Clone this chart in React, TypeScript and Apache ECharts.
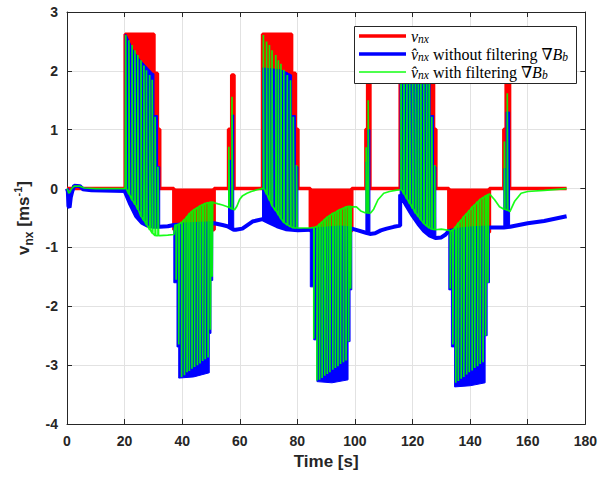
import React, { useEffect, useRef } from "react";
import * as echarts from "echarts";

type P = [number, number];

// ---------- axes ----------
const xTicks = [0, 20, 40, 60, 80, 100, 120, 140, 160, 180];
const yTicks = [-4, -3, -2, -1, 0, 1, 2, 3];

// ---------- v_nx (true velocity, red), step signal ----------
const redPath: P[] = [
  [0, 0], [20.2, 0], [20.2, 2.62], [30.2, 2.62], [30.2, 1.96], [31.4, 1.96], [31.4, 1.01], [32.2, 1.01], [32.2, 0],
  [37.1, 0], [37.1, -0.7], [51.1, -0.7], [51.1, 0],
  [56.1, 0], [56.1, 1.01], [57.2, 1.01], [57.2, 1.93], [58.0, 1.93], [58.0, 0],
  [67.9, 0], [67.9, 2.62], [78.0, 2.62], [78.0, 1.96], [79.3, 1.96], [79.3, 1.01], [80.2, 1.01], [80.2, 0],
  [84.5, 0], [84.5, -0.72], [98.9, -0.72], [98.9, 0],
  [103.8, 0], [103.8, 1.01], [104.4, 1.01], [104.4, 1.93], [105.2, 1.93], [105.2, 0],
  [115.7, 0], [115.7, 2.62], [126.1, 2.62], [126.1, 1.96], [127.3, 1.96], [127.3, 1.01], [128.1, 1.01], [128.1, 0],
  [132.6, 0], [132.6, -0.74], [146.7, -0.74], [146.7, 0],
  [151.7, 0], [151.7, 1.01], [152.5, 1.01], [152.5, 1.93], [153.7, 1.93], [153.7, 0],
  [173.5, 0],
];

// ---------- estimate without filtering (blue) ----------
const blueBaseline: P[] = [
  [0, 0], [0.3, -0.05], [0.5, -0.3], [0.9, -0.32], [1.3, -0.15], [1.8, -0.05], [2.5, 0.05], [4.5, 0.04], [5.5, -0.01], [8.5, -0.03], [20.2, -0.04],
  [20.2, -0.06], [22, -0.27], [24, -0.47], [26, -0.58], [28, -0.63], [30, -0.65], [32.2, -0.65],
  [35, -0.64], [37.1, -0.62], [44, -0.6], [50.6, -0.59], [51.1, -0.59],
  [54, -0.62], [55.7, -0.64], [57.9, -0.7], [58.6, -0.7], [60.9, -0.68], [64.4, -0.56], [67.9, -0.52],
  [70, -0.57], [73, -0.64], [76, -0.69], [80.2, -0.71],
  [84.5, -0.7], [90, -0.68], [95, -0.66], [98.9, -0.68],
  [101, -0.71], [103.8, -0.75], [105.2, -0.77], [107, -0.76], [109, -0.71], [111, -0.68], [113.5, -0.65], [115.7, -0.63],
  [115.7, -0.1], [118, -0.3], [120, -0.46], [122, -0.6], [124, -0.72], [126, -0.8], [128.1, -0.84],
  [130, -0.83], [131.5, -0.78], [132.6, -0.72], [137, -0.69], [142, -0.67], [146.7, -0.66],
  [151.7, -0.66], [153.9, -0.65], [160, -0.59], [165.7, -0.55], [173.5, -0.47],
];

// oscillation bands of the blue estimate (outline: upper edge then lower edge)
const blueBand1: P[] = [
  [20.2, 2.62], [20.5, 2.62], [21.6, 2.5], [22.8, 2.37], [24, 2.28], [25.1, 2.2], [26.3, 2.14], [27.4, 2.08], [28.6, 2.02], [29.7, 1.96],
  [30.2, 1.95], [30.2, 1.24], [31.4, 1.24], [31.4, 0.37], [32.2, 0.37],
  [32.2, -0.65], [30, -0.65], [28, -0.63], [26, -0.58], [24, -0.47], [22, -0.27], [20.2, -0.06],
];
const blueBand2: P[] = [
  [37.1, -0.62], [44, -0.6], [50.6, -0.59],
  [50.6, -1.56], [50.0, -1.56], [50.0, -2.46], [49.4, -2.46], [49.4, -3.13], [44, -3.2], [38.8, -3.22],
  [38.8, -2.69], [38.2, -2.69], [38.2, -1.6], [37.1, -1.6],
];
const blueSpike1: P[] = [[56.1, -0.65], [56.1, 0.48], [57.2, 0.48], [57.2, 1.25], [57.9, 1.25], [57.9, -0.7]];
const blueBand3: P[] = [
  [67.9, 2.05], [70, 2.04], [72, 2.03], [74, 2.02], [76, 1.98], [78.0, 1.93],
  [78.0, 1.24], [79.3, 1.24], [79.3, 0.37], [80.2, 0.37],
  [80.2, -0.71], [76, -0.69], [73, -0.64], [70, -0.57], [67.9, -0.52],
];
const blueBand4: P[] = [
  [84.5, -0.7], [90, -0.68], [95, -0.66], [98.9, -0.68],
  [98.9, -1.72], [98.3, -1.72], [98.3, -2.6], [97.6, -2.6], [97.6, -3.25], [92, -3.3], [86.8, -3.28],
  [86.8, -2.57], [85.7, -2.57], [85.7, -1.67], [84.5, -1.67],
];
const blueSpike2: P[] = [[103.8, -0.75], [103.8, 0.45], [104.4, 0.45], [104.4, 1.0], [105.2, 1.0], [105.2, -0.77]];
const blueBand5: P[] = [
  [115.7, 2.62], [116, 2.62], [117.1, 2.5], [118.3, 2.37], [119.5, 2.28], [120.6, 2.2], [121.8, 2.14], [122.9, 2.08], [124.1, 2.02], [125.6, 1.96],
  [126.1, 1.95], [126.1, 1.24], [127.3, 1.24], [127.3, 0.37], [128.1, 0.37],
  [128.1, -0.84], [126, -0.8], [124, -0.72], [122, -0.6], [120, -0.46], [118, -0.3], [115.7, -0.1],
];
const blueBand6: P[] = [
  [132.6, -0.72], [137, -0.69], [142, -0.67], [146.7, -0.66],
  [146.7, -1.6], [145.9, -1.6], [145.9, -2.5], [145.2, -2.5], [145.2, -3.3], [140, -3.35], [134.6, -3.37],
  [134.6, -2.69], [133.5, -2.69], [133.5, -1.72], [132.6, -1.72],
];
const blueSpike3: P[] = [[151.7, -0.66], [151.7, 0.34], [152.5, 0.34], [152.5, 1.3], [153.7, 1.3], [153.7, -0.66]];

// ---------- estimate with filtering (green) ----------
const gSeg0: P[] = [[0, 0.0], [0.3, -0.03], [0.6, -0.08], [1.0, -0.06], [1.6, 0.0], [2.5, 0.04], [4.5, 0.04], [6, 0.01], [10, 0.0], [20.2, 0.0]];
const gB1Time = [20.4, 21.5, 22.6, 23.6, 24.6, 25.7, 26.7, 27.6, 28.7, 29.6, 30.6, 31.6];
const gB1Rest = [0.0, -0.1, -0.2, -0.27, -0.36, -0.48, -0.55, -0.62, -0.7, -0.76, -0.8, -0.8];
const gB1Peak = [2.61, 2.52, 2.44, 2.35, 2.27, 2.18, 2.09, 2.01, 1.93, 1.85, 1.22, 0.37];
const gSeg1: P[] = [[32.2, -0.8], [35, -0.79], [37.1, -0.78], [37.5, -0.62]];
const gB2Time = [37.9, 38.8, 39.8, 40.8, 41.7, 42.5, 43.4, 44.3, 45.3, 46.2, 47.1, 48.0, 49.0, 49.8, 50.4];
const gB2Rest = [-0.62, -0.6, -0.57, -0.52, -0.47, -0.42, -0.38, -0.35, -0.32, -0.29, -0.27, -0.25, -0.24, -0.23, -0.23];
const gB2Peak = [-1.55, -2.65, -3.2, -3.17, -3.12, -3.1, -3.06, -3.03, -3.0, -2.97, -2.93, -2.9, -2.87, -2.4, -1.5];
const gSeg2: P[] = [[51.1, -0.24], [52.5, -0.26], [54, -0.28], [55.7, -0.31]];
const gS1Time = [56.2, 57.3];
const gS1Rest = [-0.32, -0.35];
const gS1Peak = [0.71, 1.56];
const gSeg3: P[] = [[58.2, -0.36], [59, -0.3], [60, -0.18], [61, -0.12], [62.5, -0.08], [64, -0.05], [66, -0.02], [67.9, 0.0]];
const gB3Time = [68.2, 69.3, 70.3, 71.2, 72.5, 73.4, 74.3, 75.3, 76.5, 77.6, 78.6, 79.7];
const gB3Rest = [0.0, -0.1, -0.2, -0.3, -0.38, -0.45, -0.52, -0.58, -0.62, -0.65, -0.67, -0.67];
const gB3Peak = [2.61, 2.5, 2.44, 2.35, 2.27, 2.18, 2.12, 2.02, 1.93, 1.84, 1.22, 0.4];
const gSeg4: P[] = [[80.2, -0.67], [84.5, -0.67]];
const gB4Time = [85.7, 86.8, 87.7, 88.6, 89.5, 90.4, 91.3, 92.3, 93.2, 94.1, 95.0, 96.0, 96.9, 97.8, 98.5];
const gB4Rest = [-0.66, -0.64, -0.6, -0.56, -0.52, -0.48, -0.45, -0.42, -0.4, -0.37, -0.35, -0.33, -0.31, -0.3, -0.3];
const gB4Peak = [-2.55, -3.26, -3.25, -3.22, -3.18, -3.15, -3.12, -3.08, -3.05, -3.02, -2.98, -2.95, -2.92, -2.6, -1.7];
const gSeg5: P[] = [[98.9, -0.31], [100.5, -0.31], [102, -0.38], [103.5, -0.41]];
const gS2Time = [103.9, 104.6];
const gS2Rest = [-0.41, -0.42];
const gS2Peak = [0.7, 1.5];
const gSeg6: P[] = [[105.5, -0.41], [106.5, -0.35], [108, -0.19], [110, -0.08], [112, -0.05], [114, -0.03], [115.7, -0.02]];
const gB5Time = [116.0, 117.0, 118.0, 119.0, 120.0, 121.0, 122.0, 122.9, 123.9, 124.9, 125.8, 126.7, 127.7];
const gB5Rest = [-0.02, -0.1, -0.18, -0.26, -0.34, -0.42, -0.48, -0.54, -0.6, -0.64, -0.67, -0.69, -0.7];
const gB5Peak = [2.6, 2.52, 2.44, 2.36, 2.28, 2.2, 2.12, 2.04, 1.96, 1.9, 1.84, 1.22, 0.4];
const gSeg7: P[] = [[128.1, -0.7], [130, -0.69], [132.6, -0.71]];
const gB6Time = [133.1, 134.0, 135.0, 135.9, 136.9, 137.8, 138.8, 139.7, 140.7, 141.6, 142.6, 143.5, 144.5, 145.4, 146.2];
const gB6Rest = [-0.72, -0.7, -0.64, -0.58, -0.53, -0.47, -0.42, -0.37, -0.31, -0.27, -0.22, -0.18, -0.15, -0.12, -0.1];
const gB6Peak = [-1.7, -2.65, -3.3, -3.27, -3.23, -3.2, -3.16, -3.12, -3.09, -3.05, -3.02, -2.98, -2.95, -2.5, -1.6];
const gSeg8: P[] = [[146.7, -0.09], [148.5, -0.19], [150.2, -0.31], [151.3, -0.34]];
const gS3Time = [151.9, 152.9];
const gS3Rest = [-0.35, -0.37];
const gS3Peak = [0.8, 1.62];
const gSeg9: P[] = [[153.8, -0.39], [155.4, -0.22], [157.7, -0.08], [160, -0.05], [165.7, -0.03], [173.5, 0.0]];

// ---------- build series data from the tables ----------
const SPIKE_W = 0.2;
function spikes(times: number[], rest: number[], peak: number[]): P[] {
  const out: P[] = [];
  times.forEach((t, i) => {
    out.push([t, rest[i]], [t, peak[i]], [t + SPIKE_W, peak[i]], [t + SPIKE_W, rest[i]]);
  });
  return out;
}
const greenPath: P[] = [
  ...gSeg0, ...spikes(gB1Time, gB1Rest, gB1Peak),
  ...gSeg1, ...spikes(gB2Time, gB2Rest, gB2Peak),
  ...gSeg2, ...spikes(gS1Time, gS1Rest, gS1Peak),
  ...gSeg3, ...spikes(gB3Time, gB3Rest, gB3Peak),
  ...gSeg4, ...spikes(gB4Time, gB4Rest, gB4Peak),
  ...gSeg5, ...spikes(gS2Time, gS2Rest, gS2Peak),
  ...gSeg6, ...spikes(gB5Time, gB5Rest, gB5Peak),
  ...gSeg7, ...spikes(gB6Time, gB6Rest, gB6Peak),
  ...gSeg8, ...spikes(gS3Time, gS3Rest, gS3Peak),
  ...gSeg9,
];
const blueShapes: P[][] = [blueBand1, blueBand2, blueSpike1, blueBand3, blueBand4, blueSpike2, blueBand5, blueBand6, blueSpike3];

const RED = "#ff0000";
const BLUE = "#0000ff";
const GREEN = "#00ff00";
const AXIS = "#262626";
const SANS = "'Liberation Sans', Arial, Helvetica, sans-serif";
const SERIF = "'Liberation Serif', 'DejaVu Serif', serif";

const legendRich = {
  i: { fontFamily: SERIF, fontStyle: "italic", fontSize: 16, color: "#000", lineHeight: 18 },
  s: { fontFamily: SERIF, fontStyle: "italic", fontSize: 11.5, color: "#000", lineHeight: 12, verticalAlign: "bottom" },
  r: { fontFamily: SERIF, fontSize: 16, color: "#000", lineHeight: 18 },
};

function buildOption(): any {
  const xMin = xTicks[0], xMax = xTicks[xTicks.length - 1], xStep = xTicks[1] - xTicks[0];
  const yMin = yTicks[0], yMax = yTicks[yTicks.length - 1], yStep = yTicks[1] - yTicks[0];
  const mainLabel = { show: true, color: AXIS, fontSize: 14, fontWeight: "bold", fontFamily: SANS };
  const frameLine = { show: true, onZero: false, lineStyle: { color: AXIS, width: 1 } };
  const innerTick = { show: true, inside: true, length: 5, lineStyle: { color: AXIS, width: 1 } };
  const grid = { show: true, lineStyle: { color: "#e2e2e2", width: 1 } };
  return {
    animation: false,
    backgroundColor: "#ffffff",
    grid: { left: 67, top: 12, width: 521, height: 412, containLabel: false },
    xAxis: [
      {
        type: "value", min: xMin, max: xMax, interval: xStep, position: "bottom",
        axisLine: frameLine, axisTick: innerTick, splitLine: grid,
        axisLabel: { ...mainLabel, margin: 10 },
        name: "Time [s]", nameLocation: "middle", nameGap: 29,
        nameTextStyle: { fontSize: 17, fontWeight: "bold", fontFamily: SANS, color: AXIS },
      },
      {
        type: "value", min: xMin, max: xMax, interval: xStep, position: "top",
        axisLine: frameLine, axisTick: innerTick, splitLine: { show: false }, axisLabel: { show: false },
      },
    ],
    yAxis: [
      {
        type: "value", min: yMin, max: yMax, interval: yStep, position: "left",
        axisLine: frameLine, axisTick: innerTick, splitLine: grid,
        axisLabel: { ...mainLabel, margin: 9 },
        name: "{b|v}{s|nx}{b| [ms}{p|-1}{b|]}", nameLocation: "middle", nameRotate: 90, nameGap: 30,
        nameTextStyle: {
          rich: {
            b: { fontSize: 17, fontWeight: "bold", fontFamily: SANS, color: AXIS, lineHeight: 22 },
            s: { fontSize: 12, fontWeight: "bold", fontFamily: SANS, color: AXIS, lineHeight: 12, verticalAlign: "bottom" },
            p: { fontSize: 11, fontWeight: "bold", fontFamily: SANS, color: AXIS, lineHeight: 12, verticalAlign: "top" },
          },
        },
      },
      {
        type: "value", min: yMin, max: yMax, interval: yStep, position: "right",
        axisLine: frameLine, axisTick: innerTick, splitLine: { show: false }, axisLabel: { show: false },
      },
    ],
    series: [
      {
        name: "v_nx", type: "line", data: redPath, showSymbol: false, symbol: "none", silent: true, z: 2,
        lineStyle: { color: RED, width: 3.5 }, itemStyle: { color: RED },
        areaStyle: { color: RED, opacity: 1 },
      },
      {
        name: "v_nx hat without filtering (band)", type: "custom", silent: true, z: 3, clip: true,
        data: blueShapes.map((s, i) => [s[0][0], s[0][1], i]),
        encode: { x: 0, y: 1 },
        renderItem: (params: any, api: any) => {
          const shape = blueShapes[api.value(2) as number];
          return {
            type: "polygon",
            shape: { points: shape.map((p) => api.coord(p)) },
            style: { fill: BLUE, stroke: BLUE, lineWidth: 1 },
          };
        },
      },
      {
        name: "v_nx hat without filtering", type: "line", data: blueBaseline, showSymbol: false, symbol: "none", silent: true, z: 3,
        lineStyle: { color: BLUE, width: 4 }, itemStyle: { color: BLUE },
      },
      {
        name: "v_nx hat with filtering", type: "line", data: greenPath, showSymbol: false, symbol: "none", silent: true, z: 4,
        lineStyle: { color: GREEN, width: 1.7, opacity: 0.9 }, itemStyle: { color: GREEN },
      },
    ],
    graphic: [
      {
        type: "group", z: 100,
        children: [
          { type: "rect", z: 100, shape: { x: 354.5, y: 26.5, width: 222, height: 57 }, style: { fill: "#ffffff", stroke: AXIS, lineWidth: 1 } },
          { type: "line", z: 101, shape: { x1: 359, y1: 36, x2: 406, y2: 36 }, style: { stroke: RED, lineWidth: 3.5 } },
          { type: "line", z: 101, shape: { x1: 359, y1: 54, x2: 406, y2: 54 }, style: { stroke: BLUE, lineWidth: 3.5 } },
          { type: "line", z: 101, shape: { x1: 359, y1: 72, x2: 406, y2: 72 }, style: { stroke: "#4dff4d", lineWidth: 1.8 } },
          { type: "text", z: 101, x: 411, y: 36, style: { text: "{i|v}{s|nx}", rich: legendRich, align: "left", verticalAlign: "middle", textAlign: "left", textVerticalAlign: "middle" } },
          { type: "text", z: 101, x: 411, y: 54, style: { text: "{i|v\u0302}{s|nx}{r| without filtering \u2207}{i|B}{s|b}", rich: legendRich, align: "left", verticalAlign: "middle", textAlign: "left", textVerticalAlign: "middle" } },
          { type: "text", z: 101, x: 411, y: 72, style: { text: "{i|v\u0302}{s|nx}{r| with filtering \u2207}{i|B}{s|b}", rich: legendRich, align: "left", verticalAlign: "middle", textAlign: "left", textVerticalAlign: "middle" } },
        ],
      },
    ],
  };
}

export default function App() {
  const ref = useRef<HTMLDivElement>(null);
  useEffect(() => {
    if (!ref.current) return;
    const chart = echarts.init(ref.current, undefined, { renderer: "svg" });
    chart.setOption(buildOption());
    return () => chart.dispose();
  }, []);
  return (
    <div
      ref={ref}
      style={{ position: "fixed", left: 0, top: 0, width: 600, height: 477, background: "#ffffff" }}
    />
  );
}
